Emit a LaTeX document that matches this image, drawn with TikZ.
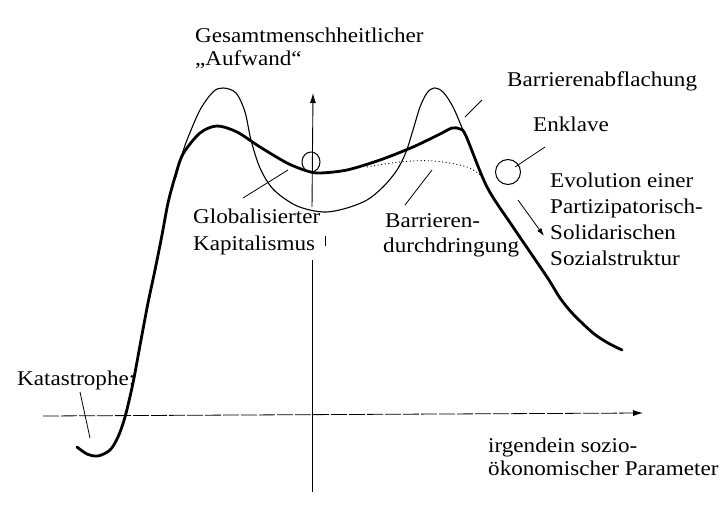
\documentclass[tikz,border=0pt]{standalone}
\usepackage{fontspec}
\setmainfont{Liberation Serif}
\usetikzlibrary{arrows.meta,shapes.geometric}
\tikzset{
  lbl/.style={font=\fontsize{21}{25}\selectfont, xscale=1.1, inner sep=0pt, anchor=base west},
  thickc/.style={line width=2.8pt, line cap=round, line join=round},
  thinc/.style={line width=1.1pt, line cap=round, line join=round},
  dotc/.style={line width=0.9pt, dash pattern=on 1pt off 2.6pt},
  leader/.style={line width=0.8pt},
  axisline/.style={line width=0.9pt},
  haxis/.style={line width=0.8pt, dash pattern=on 16pt off 2pt},
  tip/.style={-{Latex[length=10pt,width=6pt]}},
  ring/.style={draw, line width=1pt, inner sep=0pt},
}
\begin{document}
\begin{tikzpicture}[x=1pt,y=-1pt]
\useasboundingbox[fill=white] (0,0) rectangle (720,513);

% axes
\coordinate (hx0) at (43,416);
\coordinate (hx1) at (643,413);
\draw[haxis, tip] (hx0) -- (hx1);
\coordinate (vx0) at (312,492);
\coordinate (vx1) at (312,260);
\coordinate (vx2) at (312,207);
\coordinate (vx3) at (313,93);
\draw[axisline] (vx0) -- (vx1);
\draw[axisline, tip] (vx2) -- (vx3);
\coordinate (tk0) at (325,236);
\coordinate (tk1) at (325,246);
\draw[line width=0.7pt] (tk0) -- (tk1);

% thin curve (high barriers)
\draw[thinc] plot[smooth, tension=0.55] coordinates {
 (176,177) (181,158) (187,140) (200,110) (213,92) (223,88) (236,93) (245,112)
 (251,140) (260,168) (273,189) (293,204) (310,210) (327,212) (347,208)
 (367,200) (383,187) (397,170) (406,152) (413,130) (420,107) (427,93)
 (434,88) (443,92) (453,107) (463,130) (467,138)};

% dotted curve
\draw[dotc] plot[smooth, tension=0.6] coordinates {
 (367,167) (400,162) (433,161) (467,167) (484,178)};

% thick curve
\draw[thickc] plot[smooth, tension=0.5] coordinates {
 (77,447) (87,454) (98,456) (110,450) (118,437) (125,417) (133,383)
 (141,340) (148,303) (155,270) (162,235) (168,203) (175,177) (183,154)
 (200,133) (217,126) (237,132) (260,147) (287,163) (307,171) (320,173)
 (347,170) (380,160) (413,147) (440,134) (452,128) (460,129) (466,136)
 (487,187) (513,227) (547,277) (560,298) (573,314) (593,333) (608,343) (622,350)};

% circles
\node[ring, ellipse, minimum width=18pt, minimum height=20pt] (c1) at (311,162) {};
\node[ring, circle, minimum size=25pt] (c2) at (508,172) {};

% labels
\node[lbl] (g1) at (195,43) {Gesamtmenschheitlicher};
\node[lbl] (g2) at (195,66) {„Aufwand“};
\node[lbl] (ba) at (507,87) {Barrierenabflachung};
\node[lbl] (en) at (533,132) {Enklave};
\node[lbl] (e1) at (550,188) {Evolution einer};
\node[lbl] (e2) at (550,214) {Partizipatorisch-};
\node[lbl] (e3) at (550,240) {Solidarischen};
\node[lbl] (e4) at (550,265) {Sozialstruktur};
\node[lbl] (k1) at (193,224) {Globalisierter};
\node[lbl] (k2) at (193,250) {Kapitalismus};
\node[lbl] (b1) at (385,228) {Barrieren-};
\node[lbl] (b2) at (383,252) {durchdringung};
\node[lbl] (ka) at (17,385) {Katastrophe:};
\node[lbl] (p1) at (488,452) {irgendein sozio-};
\node[lbl] (p2) at (488,475) {ökonomischer Parameter};

% leaders
\coordinate (enA) at (515,167);
\coordinate (enB) at (545,147);
\draw[leader] (enA) -- (enB);
\coordinate (baA) at (465,117);
\coordinate (baB) at (482,100);
\draw[leader] (baA) -- (baB);
\coordinate (glA) at (243,198);
\coordinate (glB) at (288,170);
\draw[leader] (glA) -- (glB);
\coordinate (bdA) at (405,205);
\coordinate (bdB) at (432,170);
\draw[leader] (bdA) -- (bdB);
\coordinate (kaA) at (80,392);
\coordinate (kaB) at (90,438);
\draw[leader] (kaA) -- (kaB);
\coordinate (evA) at (518,200);
\coordinate (evB) at (544,236);
\draw[leader, -{Latex[length=8pt,width=5pt]}] (evA) -- (evB);
\end{tikzpicture}
\end{document}
